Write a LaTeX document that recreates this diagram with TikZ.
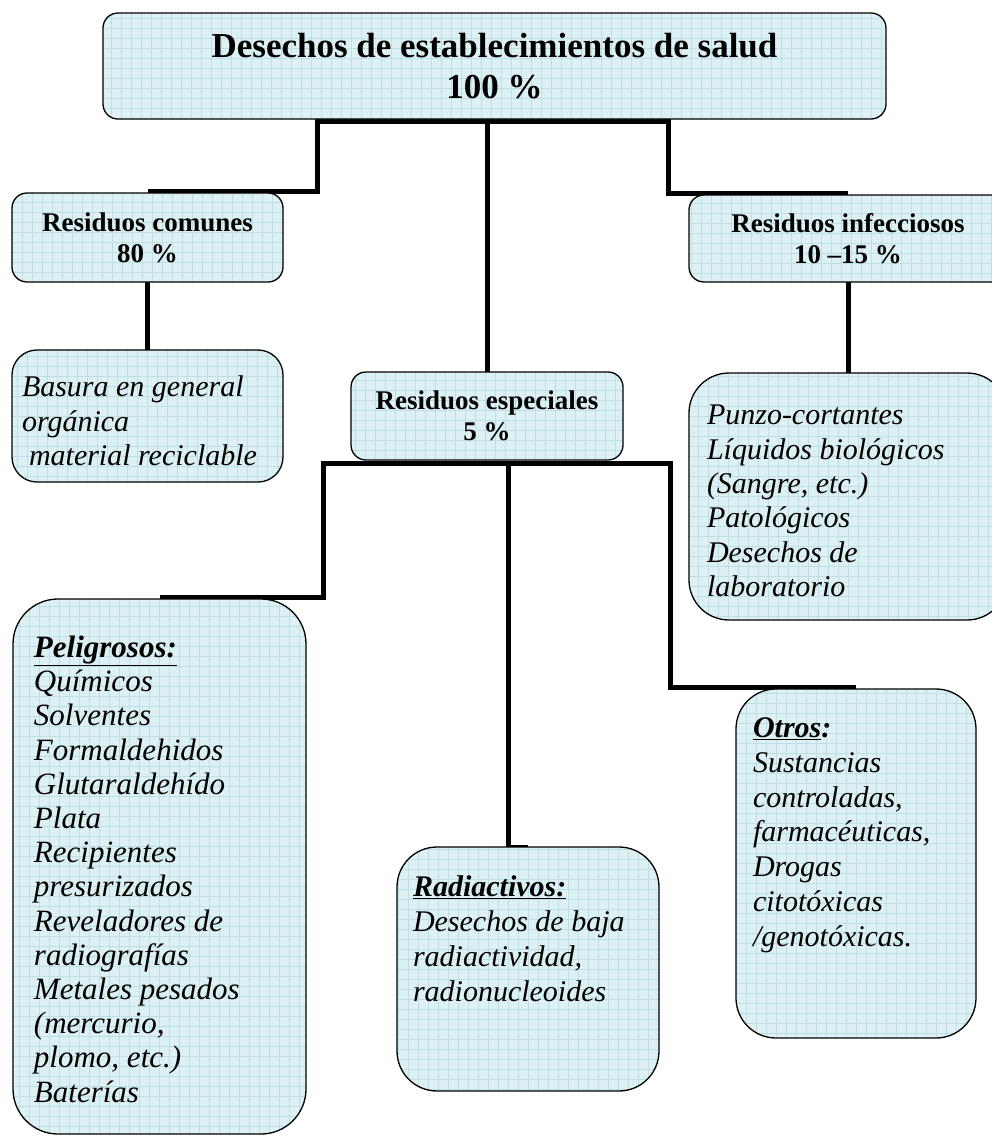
\documentclass[tikz,border=0pt]{standalone}
\usepackage{fontspec}
\setmainfont{Liberation Serif}
\usetikzlibrary{calc}
\definecolor{boxfill}{RGB}{221,240,243}
\definecolor{gridline}{RGB}{190,224,229}
\pgfdeclarelayer{bg}
\pgfsetlayers{bg,main}
\begin{document}
\begin{tikzpicture}[x=1pt,y=-1pt,
  box/.style={draw=black, line width=1.3pt, fill=boxfill, inner sep=0pt, outer sep=0pt,
    path picture={\draw[gridline, line width=0.5pt, step=10pt] (path picture bounding box.south west) grid (path picture bounding box.north east);}},
  conn/.style={line width=5pt, black, line join=miter},
  headfont/.style={font=\fontsize{27}{31}\selectfont\bfseries, align=center},
  listtext/.style={inner sep=0pt, outer sep=0pt, align=left, anchor=north west}
]
\useasboundingbox (0,0) rectangle (992,1136);
\clip (0,0) rectangle (992,1136);

% boxes
\node[box, rounded corners=15pt, minimum width=783pt, minimum height=106pt,
      font=\fontsize{35}{41}\selectfont\bfseries, align=center] (title) at (494.5,66)
      {Desechos de establecimientos de salud\\100 \%};
\node[box, rounded corners=15pt, minimum width=271pt, minimum height=89pt, headfont] (comunes) at (147.5,237.5)
      {Residuos comunes\\80 \%};
\node[box, rounded corners=15pt, minimum width=318pt, minimum height=87pt, headfont] (infec) at (848,238.5)
      {Residuos infecciosos\\10 –15 \%};
\node[box, rounded corners=15pt, minimum width=272pt, minimum height=88pt, headfont] (espec) at (487,416)
      {Residuos especiales\\5 \%};
\node[box, rounded corners=25pt, minimum width=271pt, minimum height=132pt] (basura) at (147.5,416) {};
\node[box, rounded corners=40pt, minimum width=318pt, minimum height=247pt] (inflist) at (848,496.5) {};
\node[box, rounded corners=45pt, minimum width=293pt, minimum height=535pt] (peli) at (159.5,866.5) {};
\node[box, rounded corners=40pt, minimum width=262pt, minimum height=244pt] (radio) at (528,969) {};
\node[box, rounded corners=40pt, minimum width=240pt, minimum height=349pt] (otros) at (856,863.5) {};

% texts
\node[listtext, font=\fontsize{30}{34.5}\selectfont\itshape] (basuraT) at (22,376)
  {Basura en general\\orgánica\\\hspace*{7pt}material reciclable};
\node[listtext, font=\fontsize{30}{34.4}\selectfont\itshape] (inflistT) at (707,405)
  {Punzo-cortantes\\Líquidos biológicos\\(Sangre, etc.)\\Patológicos\\Desechos de\\laboratorio};
\node[listtext, font=\fontsize{31}{34.2}\selectfont\itshape] (peliT) at (34,636)
  {\textbf{\underline{Peligrosos:}}\\Químicos\\Solventes\\Formaldehidos\\Glutaraldehído\\Plata\\Recipientes\\presurizados\\Reveladores de\\radiografías\\Metales pesados\\(mercurio,\\plomo, etc.)\\Baterías};
\node[listtext, font=\fontsize{30}{35}\selectfont\itshape] (radioT) at (413,876)
  {\textbf{\underline{Radiactivos:}}\\Desechos de baja\\radiactividad,\\radionucleoides};
\node[listtext, font=\fontsize{30}{34.7}\selectfont\itshape] (otrosT) at (753,718)
  {\textbf{\underline{Otros}:}\\Sustancias\\controladas,\\farmacéuticas,\\Drogas\\citotóxicas\\/genotóxicas.};

% connectors
\coordinate (j1) at (317,121);
\coordinate (j2) at (668,121);
\coordinate (k1) at (323,463);
\coordinate (k2) at (670,463);
\coordinate (k3) at (508,463);
\begin{pgfonlayer}{bg}
\draw[conn] ([yshift=2pt]comunes.north) -| (j1) -- (j2) |- ([yshift=2pt]infec.north);
\draw[conn] (j1 -| espec.north) -- (espec.north);
\draw[conn] (comunes.south) -- (basura.north);
\draw[conn] (infec.south) -- (inflist.north);
\draw[conn] ([yshift=2pt]peli.north) -| (k1) -- (k2) |- ([yshift=2pt]otros.north);
\draw[conn] (k3) |- (radio.north);
\end{pgfonlayer}
\end{tikzpicture}
\end{document}
